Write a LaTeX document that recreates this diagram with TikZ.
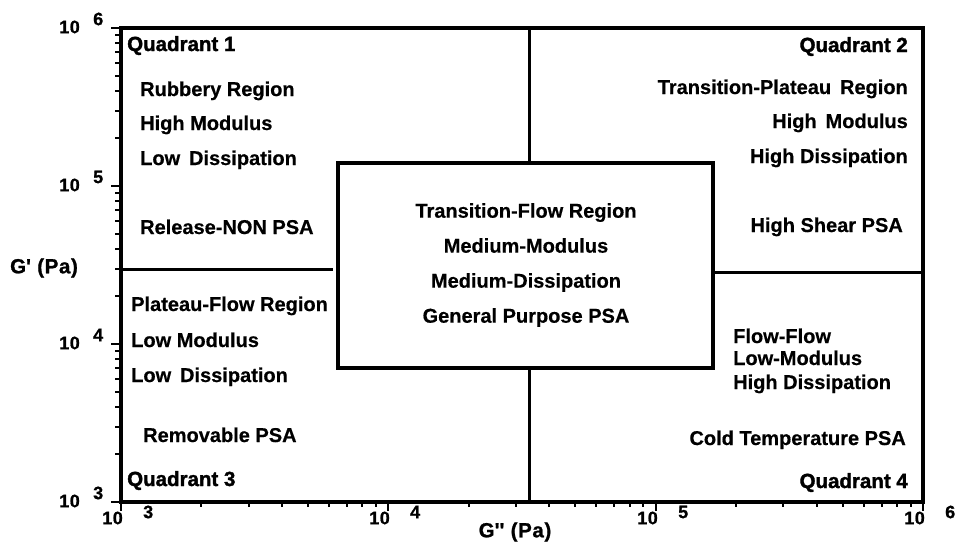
\documentclass[tikz,border=0pt]{standalone}
\usepackage{fontspec}
\setmainfont{Liberation Sans}[BoldFeatures={FakeBold=0.5}]
\newfontfamily\heavyfont{Liberation Sans}[BoldFeatures={FakeBold=1.6}]
\newfontfamily\labfont{Liberation Sans}[BoldFeatures={FakeBold=1.0,LetterSpace=3}]
\begin{document}
\begin{tikzpicture}[x=1pt,y=-1pt,
  txt/.style={inner sep=0pt, font=\bfseries\fontsize{20}{22}\selectfont, text height=14pt, text depth=4pt},
  quad/.style={inner sep=0pt, font=\heavyfont\bfseries\fontsize{20.5}{22}\selectfont, text height=14pt, text depth=4pt},
  tick/.style={inner sep=0pt, font=\labfont\bfseries\fontsize{18}{20}\selectfont},
  axlab/.style={inner sep=0pt, font=\labfont\bfseries\fontsize{20.5}{22}\selectfont},
  frame/.style={line width=3.2pt},
  divider/.style={line width=3pt},
  tk/.style={line width=2pt}]
\useasboundingbox (0,0) rectangle (963,542);
\coordinate (TL) at (121,28);
\coordinate (BR) at (923,502);
% ticks y
\foreach \d in {0,1,2} {
  \foreach \k in {2,...,9} {
    \pgfmathsetmacro\yy{502-158*(\d+log10(\k))}
    \draw[tk] (121,\yy) -- ++(-6,0);
  }
}
\foreach \yy in {28,186,344,502} { \draw[tk] (121,\yy) -- ++(-10,0); }
% ticks x
\foreach \d in {0,1,2} {
  \foreach \k in {2,...,9} {
    \pgfmathsetmacro\xx{121+267.33*(\d+log10(\k))}
    \draw[tk] (\xx,502) -- ++(0,5);
  }
}
\foreach \xx in {121,388,656,923} { \draw[tk] (\xx,502) -- ++(0,9); }
\draw[frame] (TL) rectangle (BR);
% central box
\node[draw, frame, minimum width=375pt, minimum height=205pt, inner sep=0pt] (mid) at (525.5,265.5) {};
\node[inner sep=0pt, align=center, font=\bfseries\fontsize{20}{35}\selectfont] (midtxt) at (526,265)
  {Transition-Flow Region\\Medium-Modulus\\Medium-Dissipation\\General Purpose PSA};
% dividers
\coordinate (vt) at (529,28);
\coordinate (vb) at (529,502);
\coordinate (hl1) at (121,269);
\coordinate (hl2) at (333,269);
\coordinate (hr2) at (923,272);
\draw[divider] (vt) -- (vt |- mid.north);
\draw[divider] (vb |- mid.south) -- (vb);
\draw[divider] (hl1) -- (hl2);
\draw[divider] (mid.east |- hr2) -- (hr2);
% quadrant 1
\node[quad, anchor=west] (q1) at (127,46) {Quadrant 1};
\node[txt, anchor=west] (q1a) at (140,91) {Rubbery Region};
\node[txt, anchor=west] (q1b) at (140,125) {High Modulus};
\node[txt, anchor=west] (q1c) at (140,160) {Low\, Dissipation};
\node[txt, anchor=west] (q1d) at (140,229) {Release-NON PSA};
% quadrant 3
\node[txt, anchor=west] (q3a) at (131,306) {Plateau-Flow Region};
\node[txt, anchor=west] (q3b) at (131,342) {Low Modulus};
\node[txt, anchor=west] (q3c) at (131,377) {Low\, Dissipation};
\node[txt, anchor=west] (q3d) at (143,437) {Removable PSA};
\node[quad, anchor=west] (q3) at (127,481) {Quadrant 3};
% quadrant 2
\node[quad, anchor=east] (q2) at (908,47) {Quadrant 2};
\node[txt, anchor=east] (q2a) at (908,89) {Transition-Plateau\, Region};
\node[txt, anchor=east] (q2b) at (908,123) {High\, Modulus};
\node[txt, anchor=east] (q2c) at (908,158) {High Dissipation};
\node[txt, anchor=east] (q2d) at (903,227) {High Shear PSA};
% quadrant 4
\node[txt, anchor=west] (q4a) at (733,338) {Flow-Flow};
\node[txt, anchor=west] (q4b) at (733,360) {Low-Modulus};
\node[txt, anchor=west] (q4c) at (733,384) {High Dissipation};
\node[txt, anchor=east] (q4d) at (906,440) {Cold Temperature PSA};
\node[quad, anchor=east] (q4) at (908,483) {Quadrant 4};
% y tick labels
\foreach \yy/\e [count=\i] in {28/6,186/5,344/4,502/3} {
  \node[tick, anchor=east] (yl\i) at (80,\yy-1) {10};
  \node[tick, anchor=west] (ye\i) at (93,\yy-9) {\e};
}
% x tick labels
\foreach \xx/\e [count=\i] in {121/3,388/4,656/5,923/6} {
  \node[tick, anchor=east] (xl\i) at (\xx+2,518) {10};
  \node[tick, anchor=west] (xe\i) at (\xx+22,512) {\e};
}
% axis titles
\node[axlab] (ylab) at (44,268) {G\textquotesingle\ (Pa)};
\node[axlab] (xlab) at (515,532) {G\textquotesingle\textquotesingle\ (Pa)};
\end{tikzpicture}
\end{document}
